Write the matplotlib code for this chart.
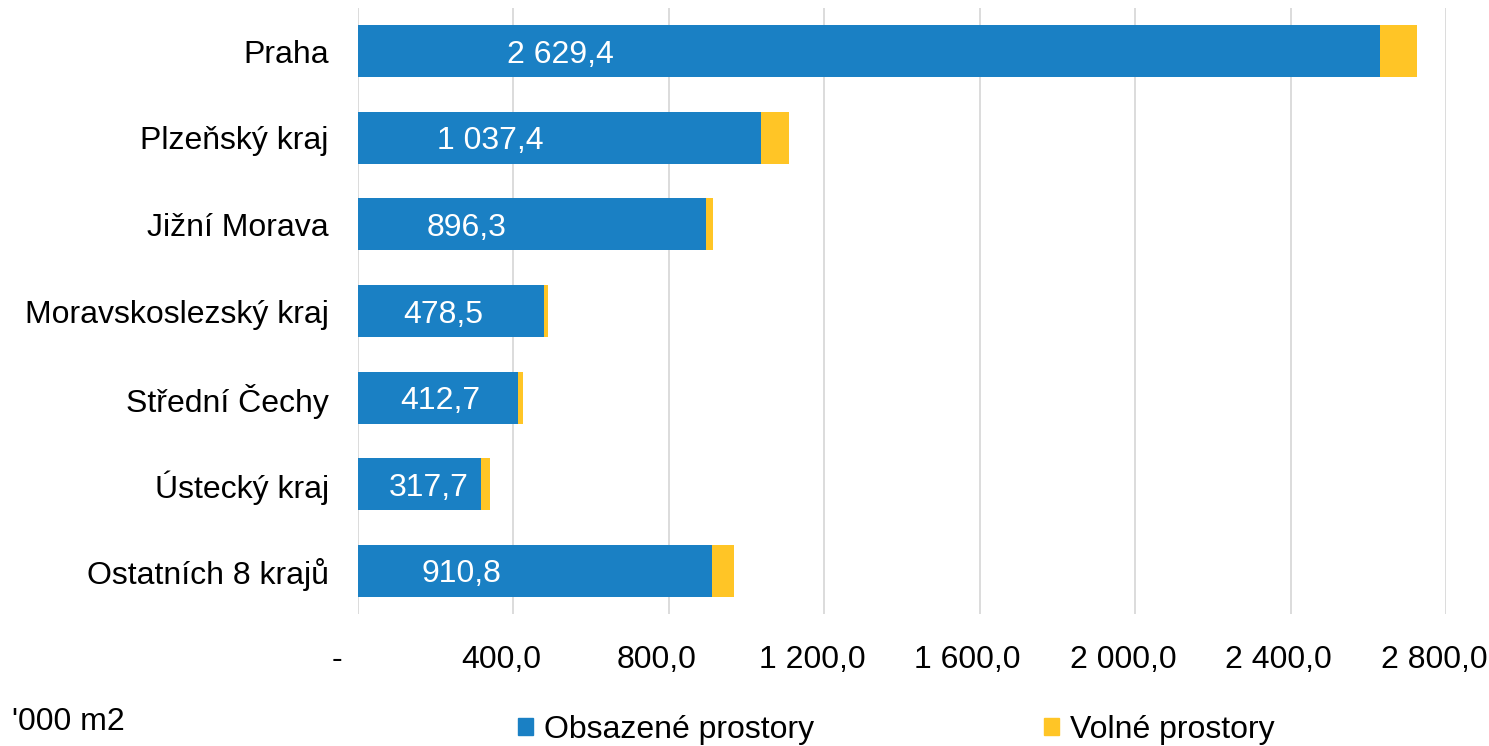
import numpy as np
import matplotlib.pyplot as plt
import matplotlib.transforms as mtransforms
from matplotlib.patches import Patch

plt.rcParams['font.family'] = ['Liberation Sans', 'DejaVu Sans']

# data ('000 m2)
regions = ['Praha', 'Plzeňský kraj', 'Jižní Morava', 'Moravskoslezský kraj',
           'Střední Čechy', 'Ústecký kraj', 'Ostatních 8 krajů']
occupied = [2629.4, 1037.4, 896.3, 478.5, 412.7, 317.7, 910.8]
vacant = [95, 71, 18, 11, 11, 23, 56]
occupied_labels = ['2 629,4', '1 037,4', '896,3', '478,5', '412,7', '317,7', '910,8']
xticks = [0, 400, 800, 1200, 1600, 2000, 2400, 2800]
xtick_labels = ['-', '400,0', '800,0', '1 200,0', '1 600,0', '2 000,0', '2 400,0', '2 800,0']

# where the value labels sit inside the blue bars (data units)
label_x = [522, 340, 280, 220, 213, 181, 266]

blue = '#1a80c4'
yellow = '#ffc526'

fig = plt.figure(figsize=(14.89, 7.46), dpi=100)
ax = fig.add_axes([358 / 1489, 1 - 614 / 746, (1446 - 358) / 1489, (614 - 8) / 746])

y = np.arange(len(regions))
ax.barh(y, occupied, height=0.6, color=blue, zorder=2)
ax.barh(y, vacant, left=occupied, height=0.6, color=yellow, zorder=2)

for yi, xi, lab in zip(y, label_x, occupied_labels):
    ax.text(xi, yi, lab, color='white', fontsize=23, ha='center', va='center_baseline', zorder=3)

ax.set_ylim(len(regions) - 0.5, -0.5)
ax.set_yticks(y)
ax.set_yticklabels(regions, fontsize=23)
ax.set_xlim(0, 2800)
ax.set_xticks(xticks)
ax.set_xticklabels(xtick_labels, fontsize=23)
ax.tick_params(axis='both', length=0)
ax.tick_params(axis='x', pad=22)
ax.tick_params(axis='y', pad=21)

# accounting-style labels sit a bit left of their gridline
for val, lab in zip(xticks, ax.get_xticklabels()):
    shift = -21 if val == 0 else -12
    lab.set_transform(lab.get_transform() + mtransforms.ScaledTranslation(shift / 100, 0, fig.dpi_scale_trans))

ax.grid(axis='x', color='#d9d9d9', linewidth=1.3)
ax.set_axisbelow(True)
for s in ax.spines.values():
    s.set_visible(False)

fig.text(12 / 1489, 1 - 722 / 746, "'000 m2", fontsize=23, va='center', ha='left')

handles = [Patch(color=blue), Patch(color=yellow)]
fig.legend(handles, ['Obsazené prostory', 'Volné prostory'], loc='center',
           bbox_to_anchor=(0.602, 1 - 730 / 746), ncol=2, frameon=False, fontsize=23,
           handlelength=0.45, handleheight=0.45, handletextpad=0.35, columnspacing=7.2)

fig.savefig('out.png', dpi=100)
